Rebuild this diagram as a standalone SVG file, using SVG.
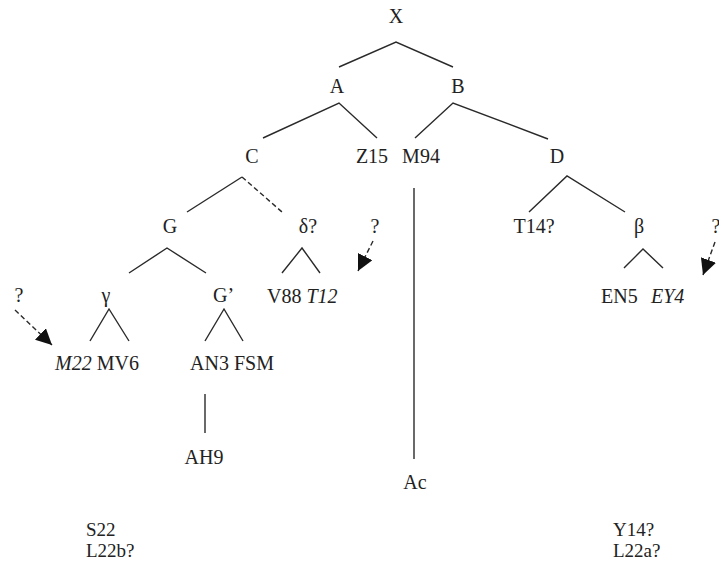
<svg xmlns="http://www.w3.org/2000/svg" width="719" height="562" viewBox="0 0 719 562">
<style>
text{font-family:"Liberation Serif","Times New Roman",serif;font-size:20px;fill:#222}
.m{text-anchor:middle}
.i{font-style:italic}
.s{font-size:19px}
.e line,.e polyline{stroke:#2a2a2a;stroke-width:1.4;fill:none}
.d{stroke-dasharray:5,3}
</style>
<defs>
<marker id="ah" viewBox="0 0 10 10" refX="10" refY="5" markerWidth="16" markerHeight="16" markerUnits="userSpaceOnUse" orient="auto">
<path d="M0,0 L10,5 L0,10 Z" fill="#111"/>
</marker>
</defs>
<rect width="719" height="562" fill="#fff"/>
<g id="connectors" class="e">
<polyline points="339,67 396,42 453,67"/>
<polyline points="263,138 339,103 377,138"/>
<polyline points="415,138 453,103 548,139"/>
<line x1="187" y1="212" x2="242" y2="177"/>
<line x1="242" y1="177" x2="282" y2="212" class="d"/>
<polyline points="529,212 567,176 625,212"/>
<polyline points="129,273 167,248 206,273"/>
<polyline points="282,273 302,248 320,273"/>
<polyline points="624,268 643,249 663,268"/>
<polyline points="90,341 109,309 129,341"/>
<polyline points="205,341 224,309 243,341"/>
<line x1="414" y1="188" x2="414" y2="459"/>
<line x1="205" y1="394" x2="205" y2="433"/>
<line x1="15" y1="310" x2="52" y2="345" class="d" marker-end="url(#ah)"/>
<line x1="373" y1="241" x2="358" y2="271" class="d" marker-end="url(#ah)"/>
<line x1="715" y1="242" x2="703" y2="275" class="d" marker-end="url(#ah)"/>
</g>
<g id="nX"><text class="m" x="396" y="23">X</text></g>
<g id="nA"><text class="m" x="337" y="93">A</text></g>
<g id="nB"><text class="m" x="458" y="93">B</text></g>
<g id="nC"><text class="m" x="252" y="163">C</text></g>
<g id="nZ15"><text class="m" x="372" y="163">Z15</text></g>
<g id="nM94"><text class="m" x="421" y="163">M94</text></g>
<g id="nD"><text class="m" x="557" y="163">D</text></g>
<g id="nG"><text class="m" x="170" y="233">G</text></g>
<g id="nDelta"><text class="m" x="308" y="233">δ?</text></g>
<g id="nQ2"><text class="m" x="375" y="233">?</text></g>
<g id="nT14"><text class="m" x="534" y="233">T14?</text></g>
<g id="nBeta"><text class="m" x="639" y="233">β</text></g>
<g id="nQ3"><text class="m" x="716" y="233">?</text></g>
<g id="nQ1"><text class="m" x="19" y="302">?</text></g>
<g id="nGamma"><text class="m" x="106" y="302">γ</text></g>
<g id="nGp"><text x="213" y="302">G’</text></g>
<g id="nV88"><text x="267" y="303">V88 <tspan class="i">T12</tspan></text></g>
<g id="nEN5"><text x="601" y="303">EN5</text><text class="i" x="651" y="303">EY4</text></g>
<g id="nM22"><text x="55" y="370"><tspan class="i">M22</tspan> MV6</text></g>
<g id="nAN3"><text x="190" y="370">AN3 FSM</text></g>
<g id="nAH9"><text class="m" x="204" y="464">AH9</text></g>
<g id="nAc"><text class="m" x="415" y="489">Ac</text></g>
<g id="nS22"><text class="s" x="86" y="536">S22</text><text class="s" x="86" y="557">L22b?</text></g>
<g id="nY14"><text class="s" x="613" y="536">Y14?</text><text class="s" x="613" y="557">L22a?</text></g>
</svg>
